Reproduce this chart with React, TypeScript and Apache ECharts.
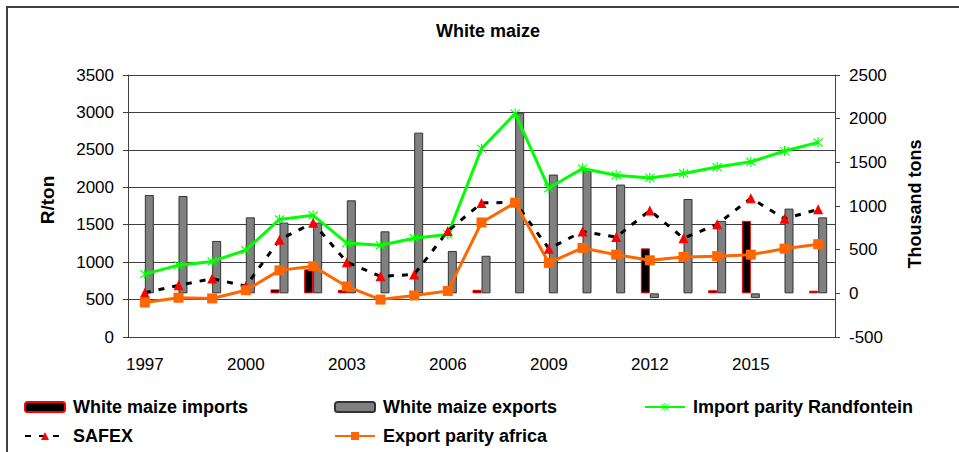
import React, { useEffect, useRef } from "react";
import * as echarts from "echarts";

const years = ["1997","1998","1999","2000","2001","2002","2003","2004","2005","2006","2007","2008","2009","2010","2011","2012","2013","2014","2015","2016","2017"];
const importParity = [840, 960, 1010, 1160, 1570, 1625, 1255, 1225, 1320, 1370, 2515, 2985, 1990, 2250, 2160, 2125, 2185, 2270, 2340, 2485, 2600];
const safex = [590, 690, 780, 680, 1300, 1525, 1000, 810, 835, 1415, 1790, 1800, 1180, 1410, 1335, 1690, 1320, 1505, 1855, 1580, 1705];
const exportParity = [460, 525, 515, 625, 890, 945, 675, 500, 555, 615, 1530, 1795, 990, 1190, 1100, 1025, 1070, 1080, 1100, 1180, 1240];
const exportsT = [1125, 1115, 600, 870, 810, 810, 1065, 710, 1840, 485, 430, 2070, 1360, 1410, 1245, -55, 1080, 830, -55, 970, 870];
const importsT = [0, 0, 0, 0, 45, 275, 40, 0, 0, 0, 40, 0, 0, 0, 0, 515, 0, 35, 830, 0, 30];

const FONT = "Liberation Sans, Arial, sans-serif";
const STAR = "path://M9,0L11,0L11,20L9,20Z M1.3,2.7L2.7,1.3L18.7,17.3L17.3,18.7Z M17.3,1.3L18.7,2.7L2.7,18.7L1.3,17.3Z";

export default function App() {
  const ref = useRef<HTMLDivElement>(null);
  useEffect(() => {
    document.body.style.margin = "0";
    const chart = echarts.init(ref.current!, null, { renderer: "svg" });
    const legendBase = {
      padding: 0,
      itemGap: 0,
      itemWidth: 40,
      itemHeight: 10,
      textStyle: { fontSize: 18, fontWeight: "bold", fontFamily: FONT, color: "#000", padding: [0, 0, 0, 3] },
    };
    const plain = (v: number) => String(v);
    const axisCommon = {
      axisLine: { show: true, lineStyle: { color: "#404040", width: 1 } },
      axisTick: { show: true, length: 5, lineStyle: { color: "#404040" } },
      axisLabel: { fontSize: 17, fontFamily: FONT, color: "#000", margin: 14, formatter: plain },
    };
    chart.setOption({
      animation: false,
      title: {
        text: "White maize",
        left: 436,
        top: 22,
        padding: 0,
        textStyle: { fontSize: 18, fontWeight: "bold", fontFamily: FONT, color: "#000" },
      },
      grid: { left: 128, right: 124, top: 75, bottom: 115, containLabel: false },
      legend: [
        { ...legendBase, data: ["White maize imports"], left: 24, top: 398 },
        { ...legendBase, data: ["White maize exports"], left: 334, top: 398 },
        { ...legendBase, data: ["Import parity Randfontein"], left: 644, top: 398 },
        { ...legendBase, data: ["SAFEX"], left: 24, top: 427 },
        { ...legendBase, data: ["Export parity africa"], left: 334, top: 427 },
      ],
      xAxis: {
        type: "category",
        data: years,
        boundaryGap: true,
        axisLine: { onZero: false, lineStyle: { color: "#404040" } },
        axisTick: { interval: 0, length: 6, lineStyle: { color: "#404040" } },
        axisLabel: { interval: 2, margin: 19, fontSize: 17, fontFamily: FONT, color: "#000" },
      },
      yAxis: [
        {
          type: "value",
          min: 0,
          max: 3500,
          interval: 500,
          position: "left",
          ...axisCommon,
          splitLine: { show: true, lineStyle: { color: "#404040", width: 1 } },
        },
        {
          type: "value",
          min: -500,
          max: 2500,
          interval: 500,
          position: "right",
          ...axisCommon,
          splitLine: { show: false },
        },
      ],
      graphic: [
        {
          type: "rect",
          z: -10,
          shape: { x: 7, y: 7, width: 962, height: 460 },
          style: { fill: "none", stroke: "#404040", lineWidth: 2 },
        },
        {
          type: "text",
          x: 47,
          y: 200,
          rotation: Math.PI / 2,
          style: { text: "R/ton", font: `bold 19px ${FONT}`, fill: "#000", textAlign: "center", textVerticalAlign: "middle" },
        },
        {
          type: "text",
          x: 915,
          y: 204,
          rotation: Math.PI / 2,
          style: { text: "Thousand tons", font: `bold 18px ${FONT}`, fill: "#000", textAlign: "center", textVerticalAlign: "middle" },
        },
      ],
      series: [
        {
          name: "White maize imports",
          type: "bar",
          yAxisIndex: 1,
          barWidth: 9,
          barGap: "0%",
          data: importsT.map((v) => (v === 0 ? null : v)),
          itemStyle: { color: "#000", borderColor: "#ff0000", borderWidth: 1 },
        },
        {
          name: "White maize exports",
          type: "bar",
          yAxisIndex: 1,
          barWidth: 9,
          barGap: "0%",
          data: exportsT,
          itemStyle: { color: "#808080", borderColor: "#333", borderWidth: 1 },
        },
        {
          name: "Import parity Randfontein",
          type: "line",
          yAxisIndex: 0,
          data: importParity,
          symbol: STAR,
          symbolSize: 10,
          showAllSymbol: true,
          lineStyle: { color: "#00ff00", width: 3 },
          itemStyle: { color: "#00ff00" },
        },
        {
          name: "SAFEX",
          type: "line",
          yAxisIndex: 0,
          data: safex,
          symbol: "triangle",
          symbolSize: 10,
          showAllSymbol: true,
          lineStyle: { color: "#000", width: 3, type: [6, 8] },
          itemStyle: { color: "#ff0000" },
        },
        {
          name: "Export parity africa",
          type: "line",
          yAxisIndex: 0,
          data: exportParity,
          symbol: "rect",
          symbolSize: 10,
          showAllSymbol: true,
          lineStyle: { color: "#ff6600", width: 3 },
          itemStyle: { color: "#ff6600" },
        },
      ],
    });
    return () => chart.dispose();
  }, []);
  return <div ref={ref} style={{ width: 959, height: 452 }} />;
}
